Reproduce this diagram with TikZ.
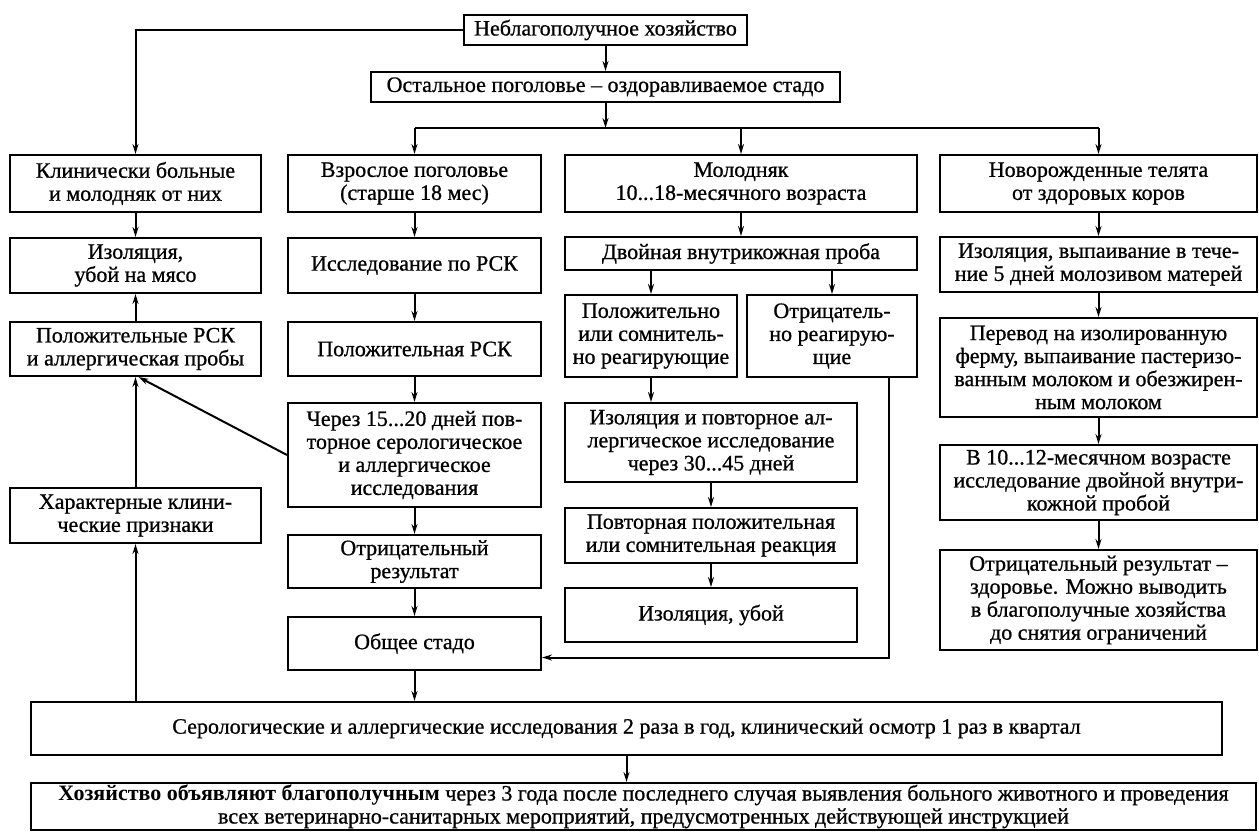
\documentclass[tikz,border=0pt]{standalone}
\usepackage{fontspec}
\setmainfont{Liberation Serif}[UprightFeatures={FakeBold=0.8}]
\usetikzlibrary{arrows.meta}
\begin{document}
\begin{tikzpicture}[x=1pt,y=-1pt]
  \tikzstyle{kasten}=[draw,line width=2pt,align=center,inner sep=0pt,font=\fontsize{22}{23}\selectfont]
  \tikzstyle{pfeil}=[-{Stealth[length=10pt,width=6pt]},line width=2pt]
  \useasboundingbox (0,0) rectangle (1259,832);

  % Kopf
  \node[kasten,minimum width=283,minimum height=30] (farm) at (605.5,30) {Неблагополучное хозяйство};
  \node[kasten,minimum width=469,minimum height=30] (rest) at (605.5,87) {Остальное поголовье -- оздоравливаемое стадо};
  \coordinate (bus) at (605.5,128);

  % Spalte 1
  \node[kasten,minimum width=251,minimum height=57] (sick) at (135.5,183.5) {Клинически больные\\и молодняк от них};
  \node[kasten,minimum width=251,minimum height=55] (kill) at (135.5,265.5) {Изоляция,\\убой на мясо};
  \node[kasten,minimum width=251,minimum height=54] (posrsk) at (135.5,349) {Положительные РСК\\и аллергическая пробы};
  \node[kasten,minimum width=251,minimum height=55] (signs) at (135.5,515.5) {Характерные клини-\\ческие признаки};

  % Spalte 2
  \node[kasten,minimum width=253,minimum height=57] (adult) at (414.5,183.5) {Взрослое поголовье\\(старше 18 мес)};
  \node[kasten,minimum width=253,minimum height=55] (rsk) at (414.5,265.5) {Исследование по РСК};
  \node[kasten,minimum width=253,minimum height=54] (pos) at (414.5,349) {Положительная РСК};
  \node[kasten,minimum width=253,minimum height=104] (repeat) at (414.5,455) {Через 15...20 дней пов-\\торное серологическое\\и аллергическое\\исследования};
  \node[kasten,minimum width=253,minimum height=53] (neg) at (414.5,561.5) {Отрицательный\\результат};
  \node[kasten,minimum width=253,minimum height=53] (herd) at (414.5,643.5) {Общее стадо};

  % Spalte 3
  \node[kasten,minimum width=352,minimum height=57] (young) at (741,183.5) {Молодняк\\10...18-месячного возраста};
  \node[kasten,minimum width=352,minimum height=33] (test) at (741,253.5) {Двойная внутрикожная проба};
  \node[kasten,minimum width=172,minimum height=82] (yes) at (651,336) {Положительно\\или сомнитель-\\но реагирующие};
  \node[kasten,minimum width=170,minimum height=82] (no) at (832,336) {Отрицатель-\\но реагирую-\\щие};
  \node[kasten,minimum width=292,minimum height=79] (iso) at (711,442.5) {Изоляция и повторное ал-\\лергическое исследование\\через 30...45 дней};
  \node[kasten,minimum width=292,minimum height=55] (again) at (711,535.5) {Повторная положительная\\или сомнительная реакция};
  \node[kasten,minimum width=292,minimum height=54] (slaughter) at (711,615) {Изоляция, убой};

  % Spalte 4
  \node[kasten,minimum width=317,minimum height=57] (calves) at (1098.5,183.5) {Новорожденные телята\\от здоровых коров};
  \node[kasten,minimum width=317,minimum height=55] (colostrum) at (1098.5,264.5) {Изоляция, выпаивание в тече-\\ние 5 дней молозивом матерей};
  \node[kasten,minimum width=317,minimum height=99] (farm2) at (1098.5,367.5) {Перевод на изолированную\\ферму, выпаивание пастеризо-\\ванным молоком и обезжирен-\\ным молоком};
  \node[kasten,minimum width=317,minimum height=75] (age) at (1098.5,482.5) {В 10...12-месячном возрасте\\исследование двойной внутри-\\кожной пробой};
  \node[kasten,minimum width=317,minimum height=100] (healthy) at (1098.5,600) {Отрицательный результат --\\здоровье. Можно выводить\\в благополучные хозяйства\\до снятия ограничений};

  % Fuss
  \node[kasten,minimum width=1191,minimum height=53] (sero) at (626.5,728.5) {Серологические и аллергические исследования 2 раза в год, клинический осмотр 1 раз в квартал};
  \node[kasten,minimum width=1225,minimum height=47] (final) at (643.5,806.5) {\textbf{Хозяйство объявляют благополучным} через 3 года после последнего случая выявления больного животного и проведения\\всех ветеринарно-санитарных мероприятий, предусмотренных действующей инструкцией};

  % Pfeile oben
  \draw[pfeil] (farm.west) -| (sick.north);
  \draw[pfeil] (farm) -- (rest);
  \draw[pfeil] (rest.south) -- (bus);
  \draw[line width=2pt] (adult.north |- bus) -- (calves.north |- bus);
  \foreach \n in {adult,young,calves}
    \draw[pfeil] (\n.north |- bus) -- (\n.north);

  % Pfeile Spalte 1
  \draw[pfeil] (sick) -- (kill);
  \draw[pfeil] (posrsk) -- (kill);
  \draw[pfeil] (signs) -- (posrsk);
  \draw[pfeil] (repeat.west) -- ([xshift=3pt]posrsk.south);
  \draw[pfeil] (sero.north -| signs.south) -- (signs.south);

  % Pfeile Spalte 2
  \draw[pfeil] (adult) -- (rsk);
  \draw[pfeil] (rsk) -- (pos);
  \draw[pfeil] (pos) -- (repeat);
  \draw[pfeil] (repeat) -- (neg);
  \draw[pfeil] (neg) -- (herd);
  \draw[pfeil] (herd.south) -- (herd.south |- sero.north);

  % Pfeile Spalte 3
  \draw[pfeil] (young) -- (test);
  \draw[pfeil] (test.south -| yes.north) -- (yes.north);
  \draw[pfeil] (test.south -| no.north) -- (no.north);
  \draw[pfeil] (yes.south) -- (yes.south |- iso.north);
  \draw[pfeil] (iso) -- (again);
  \draw[pfeil] (again) -- (slaughter);
  \draw[pfeil] ([xshift=57pt]no.south) |- ([yshift=-14pt]herd.east);

  % Pfeile Spalte 4
  \draw[pfeil] (calves) -- (colostrum);
  \draw[pfeil] (colostrum) -- (farm2);
  \draw[pfeil] (farm2) -- (age);
  \draw[pfeil] (age) -- (healthy);

  % Pfeil unten
  \draw[pfeil] (sero.south) -- (sero.south |- final.north);
\end{tikzpicture}
\end{document}
